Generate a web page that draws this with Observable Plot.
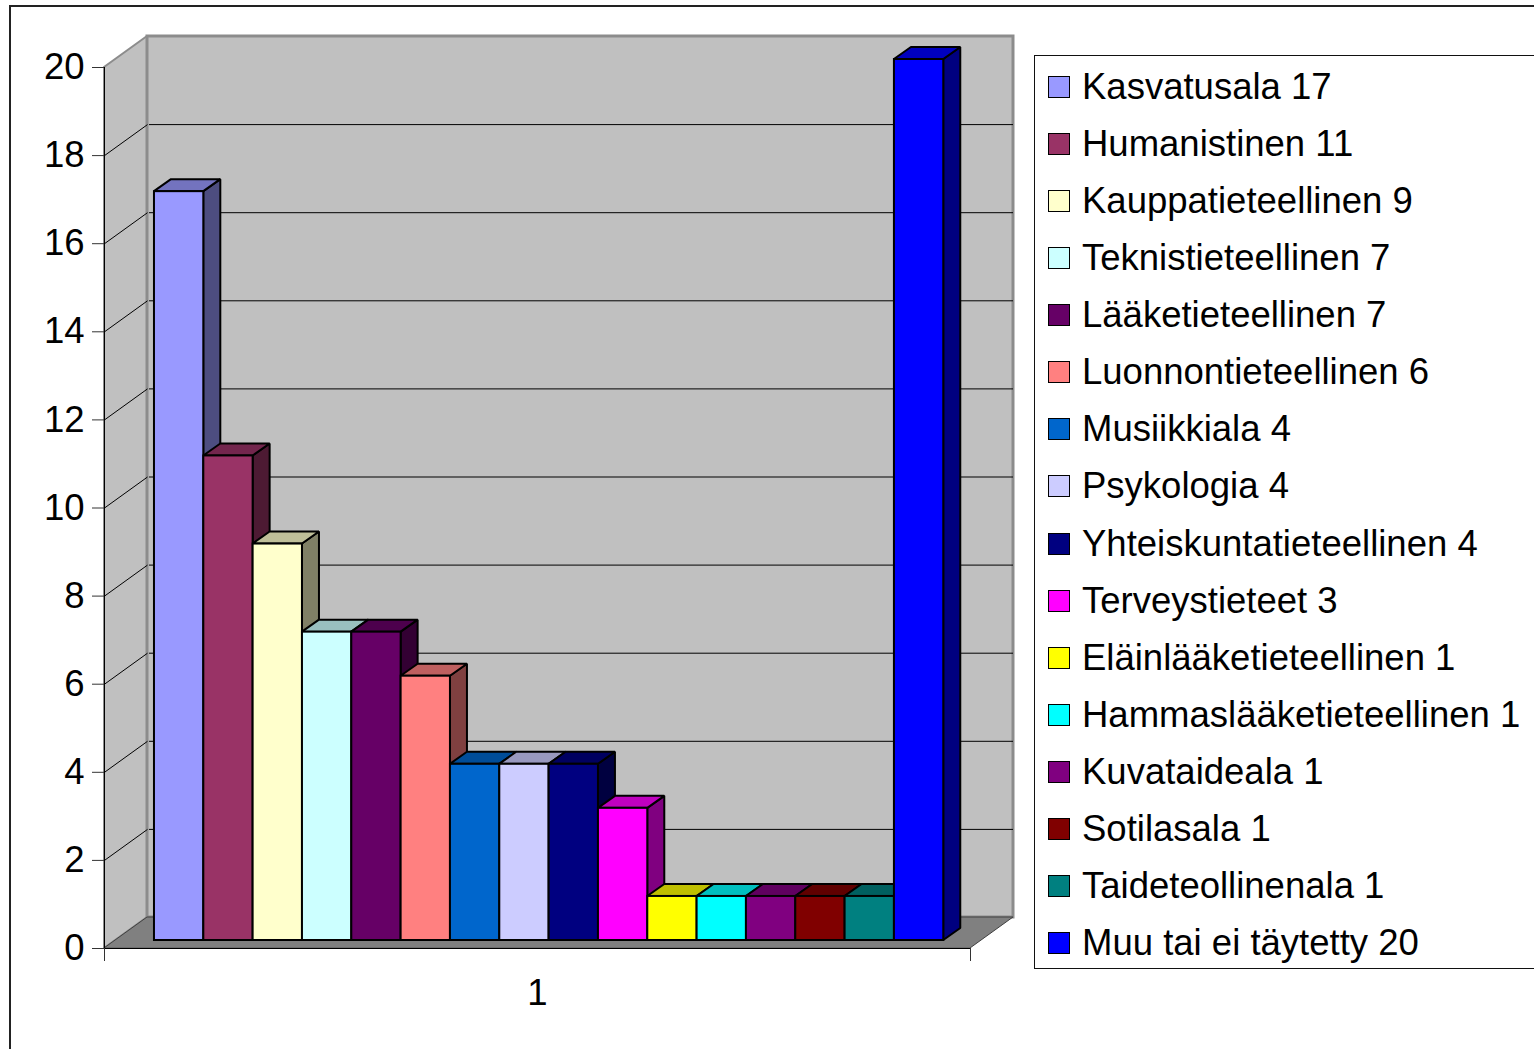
<!DOCTYPE html>
<html>
<head>
<meta charset="utf-8">
<script src="https://cdn.jsdelivr.net/npm/d3@7"></script>
<script src="https://cdn.jsdelivr.net/npm/@observablehq/plot@0.6"></script>
<style>
  html, body { margin: 0; padding: 0; background: #fff; overflow: hidden; }
  #page { position: relative; width: 1534px; height: 1049px; overflow: hidden;
          font-family: "Liberation Sans", Arial, sans-serif; }
  #frame { position: absolute; left: 9px; top: 5px; width: 1600px; height: 1100px;
           border: 2px solid #222; box-sizing: border-box; }
  #chart { position: absolute; left: 0; top: 0; }
  #legend { position: absolute; left: 1034px; top: 55px; width: 560px; height: 914px;
            border: 1.5px solid #111; box-sizing: border-box; padding-top: 2px; background: #fff; }
  .item { height: 57.13px; display: flex; align-items: center; font-size: 36.5px; color: #000; white-space: nowrap; }
  .sw { width: 20px; height: 20px; border: 1.5px solid #000; margin-left: 13px; margin-right: 12px; flex: none; }
</style>
</head>
<body>
<div id="page">
  <div id="frame"></div>
  <div id="chart"></div>
  <div id="legend"></div>
</div>
<script>
// ---- data ----
const categories = ["Kasvatusala", "Humanistinen", "Kauppatieteellinen", "Teknistieteellinen",
  "Lääketieteellinen", "Luonnontieteellinen", "Musiikkiala", "Psykologia",
  "Yhteiskuntatieteellinen", "Terveystieteet", "Eläinlääketieteellinen",
  "Hammaslääketieteellinen", "Kuvataideala", "Sotilasala", "Taideteollinenala",
  "Muu tai ei täytetty"];
const values = [17, 11, 9, 7, 7, 6, 4, 4, 4, 3, 1, 1, 1, 1, 1, 20];
const colors = ["#9999ff", "#993366", "#ffffcc", "#ccffff", "#660066", "#ff8080", "#0066cc",
  "#ccccff", "#000080", "#ff00ff", "#ffff00", "#00ffff", "#800080", "#800000", "#008080", "#0000ff"];
const yTicks = [0, 2, 4, 6, 8, 10, 12, 14, 16, 18, 20];
const gridValues = [2, 4, 6, 8, 10, 12, 14, 16, 18];
const xLabel = "1";

// ---- layout ----
const W = 1020, H = 1049;
const mL = 104, mR = 50, mT = 67, mB = 101;
const YMAX = 20;
const GAP_L = 0.79, GAP_R = 0.765;      // empty space (bar widths) either side of the bar group
const XSPAN = categories.length + GAP_L + GAP_R;
const ppx = (W - mL - mR) / XSPAN;      // pixels per x unit
const ppy = (H - mT - mB) / YMAX;       // pixels per y unit
const ux = px => px / ppx, uy = px => px / ppy;
const DX = ux(43), DY = uy(31);         // wall depth
const OX = ux(11), OY = uy(8);          // bar front-face offset into the box
const BX = ux(17), BY = uy(12);         // bar depth

function shade(c, f) {
  const r = d3.rgb(c);
  return d3.rgb(r.r * f, r.g * f, r.b * f).formatHex();
}

const bars = categories.map((name, i) => {
  const xl = GAP_L + i + OX, xr = xl + 1, y0 = OY, yt = values[i] + OY;
  return {name, value: values[i], color: colors[i], top: shade(colors[i], 0.75), side: shade(colors[i], 0.5), xl, xr, y0, yt};
});
const sidePts = bars.flatMap(b => [
  {name: b.name, fill: b.side, x: b.xr, y1: b.y0, y2: b.yt},
  {name: b.name, fill: b.side, x: b.xr + BX, y1: b.y0 + BY, y2: b.yt + BY}
]);
const topPts = bars.flatMap(b => [
  {name: b.name, fill: b.top, y: b.yt, x1: b.xl, x2: b.xr},
  {name: b.name, fill: b.top, y: b.yt + BY, x1: b.xl + BX, x2: b.xr + BX}
]);

const chart = Plot.plot({
  width: W, height: H,
  marginLeft: mL, marginRight: mR, marginTop: mT, marginBottom: mB,
  x: {type: "linear", domain: [0, XSPAN]},
  y: {type: "linear", domain: [0, YMAX]},
  color: {type: "identity"},
  style: {fontFamily: "'Liberation Sans', Arial, sans-serif", background: "transparent", color: "#000", overflow: "visible"},
  marks: [
    // left wall
    Plot.areaY([{x: 0, y1: 0, y2: YMAX}, {x: DX, y1: DY, y2: YMAX + DY}],
      {x: "x", y1: "y1", y2: "y2", fill: "#c0c0c0", stroke: "#8c8c8c", strokeWidth: 2}),
    // back wall
    Plot.rect([{x1: DX, x2: XSPAN + DX, y1: DY, y2: YMAX + DY}],
      {x1: "x1", x2: "x2", y1: "y1", y2: "y2", fill: "#c0c0c0", stroke: "#8c8c8c", strokeWidth: 3}),
    // floor
    Plot.areaX([{y: 0, x1: 0, x2: XSPAN}, {y: DY, x1: DX, x2: XSPAN + DX}],
      {y: "y", x1: "x1", x2: "x2", fill: "#808080", stroke: "#404040", strokeWidth: 1}),
    // grid lines: back wall and left wall
    Plot.ruleY(gridValues, {y: d => d + DY, x1: DX + ux(2), x2: XSPAN + DX, stroke: "#000", strokeWidth: 1}),
    Plot.link(gridValues, {x1: 0, y1: d => d, x2: DX, y2: d => d + DY, stroke: "#000", strokeWidth: 1}),
    // bars: side faces, top faces, front faces
    Plot.areaY(sidePts, {x: "x", y1: "y1", y2: "y2", z: "name", fill: "fill", stroke: "#000", strokeWidth: 2, strokeLinejoin: "miter"}),
    Plot.areaX(topPts, {y: "y", x1: "x1", x2: "x2", z: "name", fill: "fill", stroke: "#000", strokeWidth: 2, strokeLinejoin: "miter"}),
    Plot.rect(bars, {x1: "xl", x2: "xr", y1: "y0", y2: "yt", fill: "color", stroke: "#000", strokeWidth: 2}),
    // axes
    Plot.ruleX([0], {y1: 0, y2: YMAX, stroke: "#000", strokeWidth: 1}),
    Plot.ruleY([0], {stroke: "#000", strokeWidth: 1}),
    Plot.axisY({ticks: yTicks, tickSize: 12, tickPadding: 8, fontSize: 36.5, label: null, stroke: "#333"}),
    Plot.axisX({ticks: [0, XSPAN], tickSize: 13, tickFormat: () => "", label: null, stroke: "#333"}),
    Plot.text([xLabel], {x: XSPAN / 2, frameAnchor: "bottom", dy: 56, text: d => d, fontSize: 36.5, fill: "#000"})
  ]
});
document.getElementById("chart").appendChild(chart);

// legend
const legend = document.getElementById("legend");
categories.forEach((name, i) => {
  const item = document.createElement("div");
  item.className = "item";
  const sw = document.createElement("span");
  sw.className = "sw";
  sw.style.background = colors[i];
  const label = document.createElement("span");
  label.textContent = `${name} ${values[i]}`;
  item.appendChild(sw);
  item.appendChild(label);
  legend.appendChild(item);
});
</script>
</body>
</html>
